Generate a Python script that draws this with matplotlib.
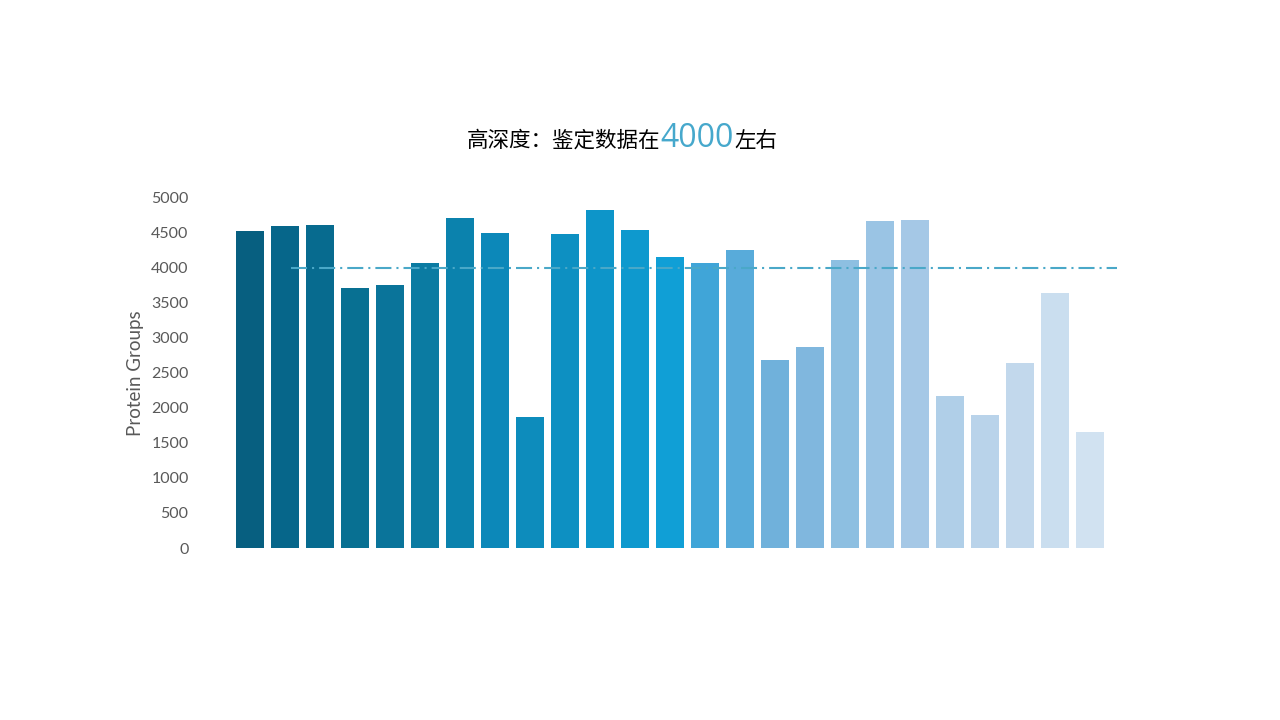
import numpy as np
import matplotlib
matplotlib.use("Agg")
import matplotlib.pyplot as plt

# protein groups per sample
values = [4530, 4600, 4615, 3715, 3760, 4070, 4715, 4500, 1870, 4485,
          4830, 4545, 4155, 4070, 4255, 2685, 2870, 4115, 4670, 4690,
          2170, 1900, 2645, 3645, 1660]
bar_colors = ['#075f80', '#06668a', '#076b8f', '#087092', '#0a749a',
              '#0b7ba2', '#0b82ad', '#0c88b9', '#0d8cbc', '#0d90c2',
              '#0d95c9', '#0e99ce', '#109fd6', '#40a5d8', '#58abda',
              '#70b1db', '#80b7de', '#8dbfe1', '#9ac4e4', '#a5c8e6',
              '#b0cfe8', '#b9d3ea', '#c2d8ec', '#cadeef', '#d1e2f1']
ref_level = 4000
yticks = [0, 500, 1000, 1500, 2000, 2500, 3000, 3500, 4000, 4500, 5000]

plt.rcParams['font.family'] = ['Noto Sans CJK SC', 'DejaVu Sans']

fig = plt.figure(figsize=(12.8, 7.2), dpi=100)
ax = fig.add_axes([215/1280, 1 - 548/720, 910/1280, 350/720])

x = np.arange(len(values))
ax.bar(x, values, width=0.8, color=bar_colors)
ax.hlines(ref_level, 1.17, 24.77, colors='#4aa8c8', linewidth=1.5,
          linestyles=(0, (7.7, 2.4, 1, 2.4)), zorder=3)

ax.set_xlim(-1, 25)
ax.set_ylim(0, 5000)
ax.set_yticks(yticks)
ax.set_xticks([])
ax.tick_params(axis='y', length=0, pad=19, labelsize=11.5, labelcolor='#595959')
for lab in ax.get_yticklabels():
    lab.set_fontfamily(['Lato', 'DejaVu Sans'])
for s in ax.spines.values():
    s.set_visible(False)

ax.set_ylabel("Protein Groups", fontsize=13.5, color='#595959',
              fontfamily=['Lato', 'DejaVu Sans'])
ax.yaxis.set_label_coords(-0.078, 0.5)

# title built from three pieces so "4000" can be larger and blue
fig.canvas.draw()
r = fig.canvas.get_renderer()
base_y = 1 - 147/720
t1 = fig.text(0, base_y, "高深度：鉴定数据在", fontsize=15.5, color='black', va='baseline')
t2 = fig.text(0, base_y, "4000", fontsize=23, color='#46a8cc', va='baseline',
              fontfamily=['Open Sans', 'DejaVu Sans'])
t3 = fig.text(0, base_y, "左右", fontsize=15.5, color='black', va='baseline')
w1 = t1.get_window_extent(r).width
w2 = t2.get_window_extent(r).width
w3 = t3.get_window_extent(r).width
total = w1 + w2 + w3
start = 622 - total / 2
t1.set_x(start / 1280)
t2.set_x((start + w1) / 1280)
t3.set_x((start + w1 + w2) / 1280)

fig.savefig("out.png", dpi=100)
